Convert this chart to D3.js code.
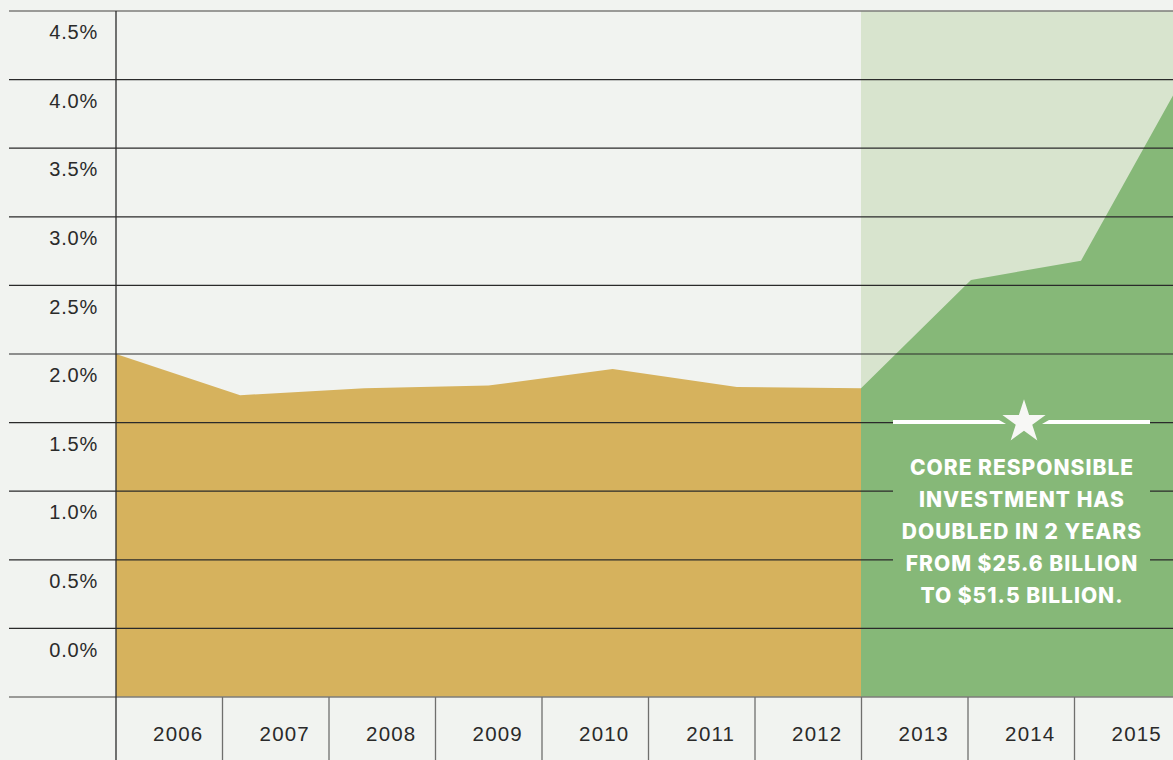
<!DOCTYPE html>
<html>
<head>
    <meta charset="UTF-8">
    <title>Core responsible investment share</title>
    <script src="https://d3js.org/d3.v7.min.js"></script>
    <style type="text/css">
        body { margin: 0; background: #f1f3f0; }
        svg { display: block; }
    </style>
</head>
<body>
    <svg id="chart"></svg>

    <script>
        const width = 1173;
        const height = 760;

        // data (share of total, %)
        const years = [2006, 2007, 2008, 2009, 2010, 2011, 2012, 2013, 2014, 2015];
        const pastYears = [2006, 2007, 2008, 2009, 2010, 2011, 2012];
        const pastShare = [2.0, 1.70, 1.75, 1.77, 1.89, 1.76, 1.75];
        const recentYears = [2012, 2013, 2014, 2015];
        const recentShare = [1.75, 2.54, 2.68, 4.12];
        const yTicks = [0, 0.5, 1.0, 1.5, 2.0, 2.5, 3.0, 3.5, 4.0, 4.5];
        const noteLines = [
            "CORE RESPONSIBLE",
            "INVESTMENT HAS",
            "DOUBLED IN 2 YEARS",
            "FROM $25.6 BILLION",
            "TO $51.5 BILLION."
        ];

        const gold = "#d6b25d";
        const green = "#86b878";
        const paleGreen = "#d8e4ce";
        const ink = "#2a2a2a";

        const svg = d3.select("#chart")
            .attr("width", width)
            .attr("height", height);

        const y = d3.scaleLinear().domain([-0.5, 4.5]).range([697, 11]);
        // the area's x positions are not evenly spaced across the two periods
        const x = d3.scaleLinear().domain([2006, 2012, 2015]).range([116, 861, 1191]);
        const col = d3.scaleBand().domain(years).range([116, 1181]).padding(0);

        svg.append("rect")
            .attr("width", width)
            .attr("height", height)
            .style("fill", "#f1f3f0");

        // highlighted recent period
        svg.append("rect")
            .attr("x", x(2012))
            .attr("y", y(4.5))
            .attr("width", width - x(2012))
            .attr("height", y(-0.5) - y(4.5))
            .style("fill", paleGreen);

        const area = d3.area()
            .x(d => x(d[0]))
            .y0(y(-0.5))
            .y1(d => y(d[1]));

        svg.append("path")
            .datum(d3.zip(pastYears, pastShare))
            .attr("d", area)
            .style("fill", gold);

        svg.append("path")
            .datum(d3.zip(recentYears, recentShare))
            .attr("d", area)
            .style("fill", green);

        // horizontal grid
        const gridVals = [-0.5].concat(yTicks);
        svg.selectAll(".grid")
            .data(gridVals)
            .enter().append("line")
            .attr("class", "grid")
            .attr("x1", 9)
            .attr("x2", width)
            .attr("y1", d => y(d))
            .attr("y2", d => y(d))
            .style("stroke", d => (d === -0.5 || d === 4.5) ? "#7c7c7a" : ink)
            .style("stroke-width", d => (d === -0.5 || d === 4.5) ? 1.6 : 1.2);

        // y axis line
        svg.append("line")
            .attr("x1", 116).attr("x2", 116)
            .attr("y1", y(4.5)).attr("y2", height)
            .style("stroke", ink)
            .style("stroke-width", 1.3);

        // column dividers under the plot
        svg.selectAll(".divider")
            .data(years.slice(1))
            .enter().append("line")
            .attr("class", "divider")
            .attr("x1", d => col(d)).attr("x2", d => col(d))
            .attr("y1", y(-0.5)).attr("y2", height)
            .style("stroke", "#6f6f6d")
            .style("stroke-width", 1.3);

        // y labels sit in the band under each grid line
        svg.selectAll(".ylabel")
            .data(yTicks)
            .enter().append("text")
            .attr("class", "ylabel")
            .attr("x", 98)
            .attr("y", d => y(d) + 21)
            .attr("dy", "0.36em")
            .attr("text-anchor", "end")
            .style("font-family", "'Liberation Sans', Arial, sans-serif")
            .style("font-size", "20px")
            .style("letter-spacing", "0.8px")
            .style("fill", ink)
            .text(d => d3.format(".1f")(d) + "%");

        svg.selectAll(".xlabel")
            .data(years)
            .enter().append("text")
            .attr("class", "xlabel")
            .attr("x", d => col(d) + col.bandwidth() / 2 + 9)
            .attr("y", 741)
            .attr("text-anchor", "middle")
            .style("font-family", "'Liberation Sans', Arial, sans-serif")
            .style("font-size", "20.5px")
            .style("letter-spacing", "1.2px")
            .style("fill", ink)
            .text(d => d);

        // annotation
        const note = svg.append("g");
        const cx = 1022;
        const starY = 422;
        note.append("rect")
            .attr("x", 893)
            .attr("y", 412)
            .attr("width", 257)
            .attr("height", 205)
            .style("fill", green);

        note.append("path")
            .attr("d", `M893,420 H${cx - 23} L${cx - 16},424 H893 Z`)
            .style("fill", "#ffffff");
        note.append("path")
            .attr("d", `M1150,420 H${cx + 27} L${cx + 20},424 H1150 Z`)
            .style("fill", "#ffffff");
        note.append("path")
            .attr("d", d3.symbol().type(d3.symbolStar).size(580))
            .attr("transform", `translate(${cx + 2},${starY})`)
            .style("fill", "#f7f7f5");

        note.selectAll(".note")
            .data(noteLines)
            .enter().append("text")
            .attr("class", "note")
            .attr("x", cx)
            .attr("y", (d, i) => 475 + i * 32)
            .attr("text-anchor", "middle")
            .style("font-family", "Inter, 'Open Sans', sans-serif")
            .style("font-weight", 800)
            .style("font-size", "21px")
            .style("letter-spacing", "1px")
            .style("fill", "#ffffff")
            .text(d => d);
    </script>
</body>
</html>
